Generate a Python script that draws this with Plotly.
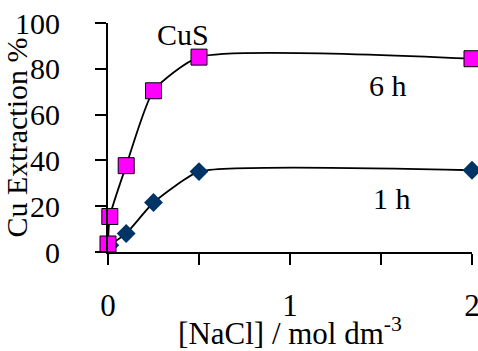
import plotly.graph_objects as go

# NaCl concentration (mol dm-3) and Cu extraction (%) from CuS
nacl_6h = [0, 0.01, 0.1, 0.25, 0.5, 2]
ext_6h = [3.5, 15.5, 37.7, 70.4, 85.1, 84.4]

nacl_1h = [0.01, 0.1, 0.25, 0.5, 2]
ext_1h = [3.0, 8.1, 21.6, 35.1, 35.7]

x_ticks = [0, 1, 2]
y_ticks = [0, 20, 40, 60, 80, 100]

FONT = "Liberation Serif"

fig = go.Figure()

fig.add_trace(go.Scatter(
    x=nacl_1h, y=ext_1h, mode="lines+markers", name="1 h",
    line=dict(color="black", width=1.8, shape="spline", smoothing=0.45),
    marker=dict(symbol="diamond", size=14.5, color="#003366",
                line=dict(color="#003366", width=0)),
    cliponaxis=False,
))
fig.add_trace(go.Scatter(
    x=nacl_6h, y=ext_6h, mode="lines+markers", name="6 h",
    line=dict(color="black", width=1.8, shape="spline", smoothing=0.55),
    marker=dict(symbol="square", size=16, color="#FF00FF",
                line=dict(color="black", width=1)),
    cliponaxis=False,
))

fig.add_annotation(x=0.41, y=95, text="CuS", showarrow=False,
                   font=dict(size=30, family=FONT, color="black"))
fig.add_annotation(x=1.54, y=72.5, text="6 h", showarrow=False,
                   font=dict(size=30, family=FONT, color="black"))
fig.add_annotation(x=1.56, y=23.5, text="1 h", showarrow=False,
                   font=dict(size=30, family=FONT, color="black"))

fig.update_xaxes(
    range=[0, 2], tickvals=x_ticks, automargin=False,
    ticks="outside", ticklen=11, tickwidth=2, tickcolor="black",
    minor=dict(dtick=0.5, tick0=0, ticks="outside", ticklen=11,
               tickwidth=2, tickcolor="black", showgrid=False),
    showline=True, linewidth=2, linecolor="black",
    showgrid=False, zeroline=False, ticklabelstandoff=14,
    ticklabeloverflow="allow",
    tickfont=dict(size=31, family=FONT, color="black"),
    title=dict(text="[NaCl] / mol dm<sup>-3</sup>", standoff=4,
               font=dict(size=31, family=FONT, color="black")),
)
fig.update_yaxes(
    range=[0, 100], tickvals=y_ticks, automargin=False,
    ticks="outside", ticklen=11, tickwidth=2, tickcolor="black",
    showline=True, linewidth=2, linecolor="black",
    showgrid=False, zeroline=False, ticklabelstandoff=29,
    ticklabeloverflow="allow",
    tickfont=dict(size=30, family=FONT, color="black"),
    title=dict(text="Cu Extraction %", standoff=0,
               font=dict(size=30, family=FONT, color="black")),
)

fig.update_layout(
    width=478, height=351,
    margin=dict(l=108, r=6, t=23, b=99),
    font=dict(family=FONT, color="black"),
    paper_bgcolor="white", plot_bgcolor="white",
    showlegend=False,
)

fig.write_html("out.html")
